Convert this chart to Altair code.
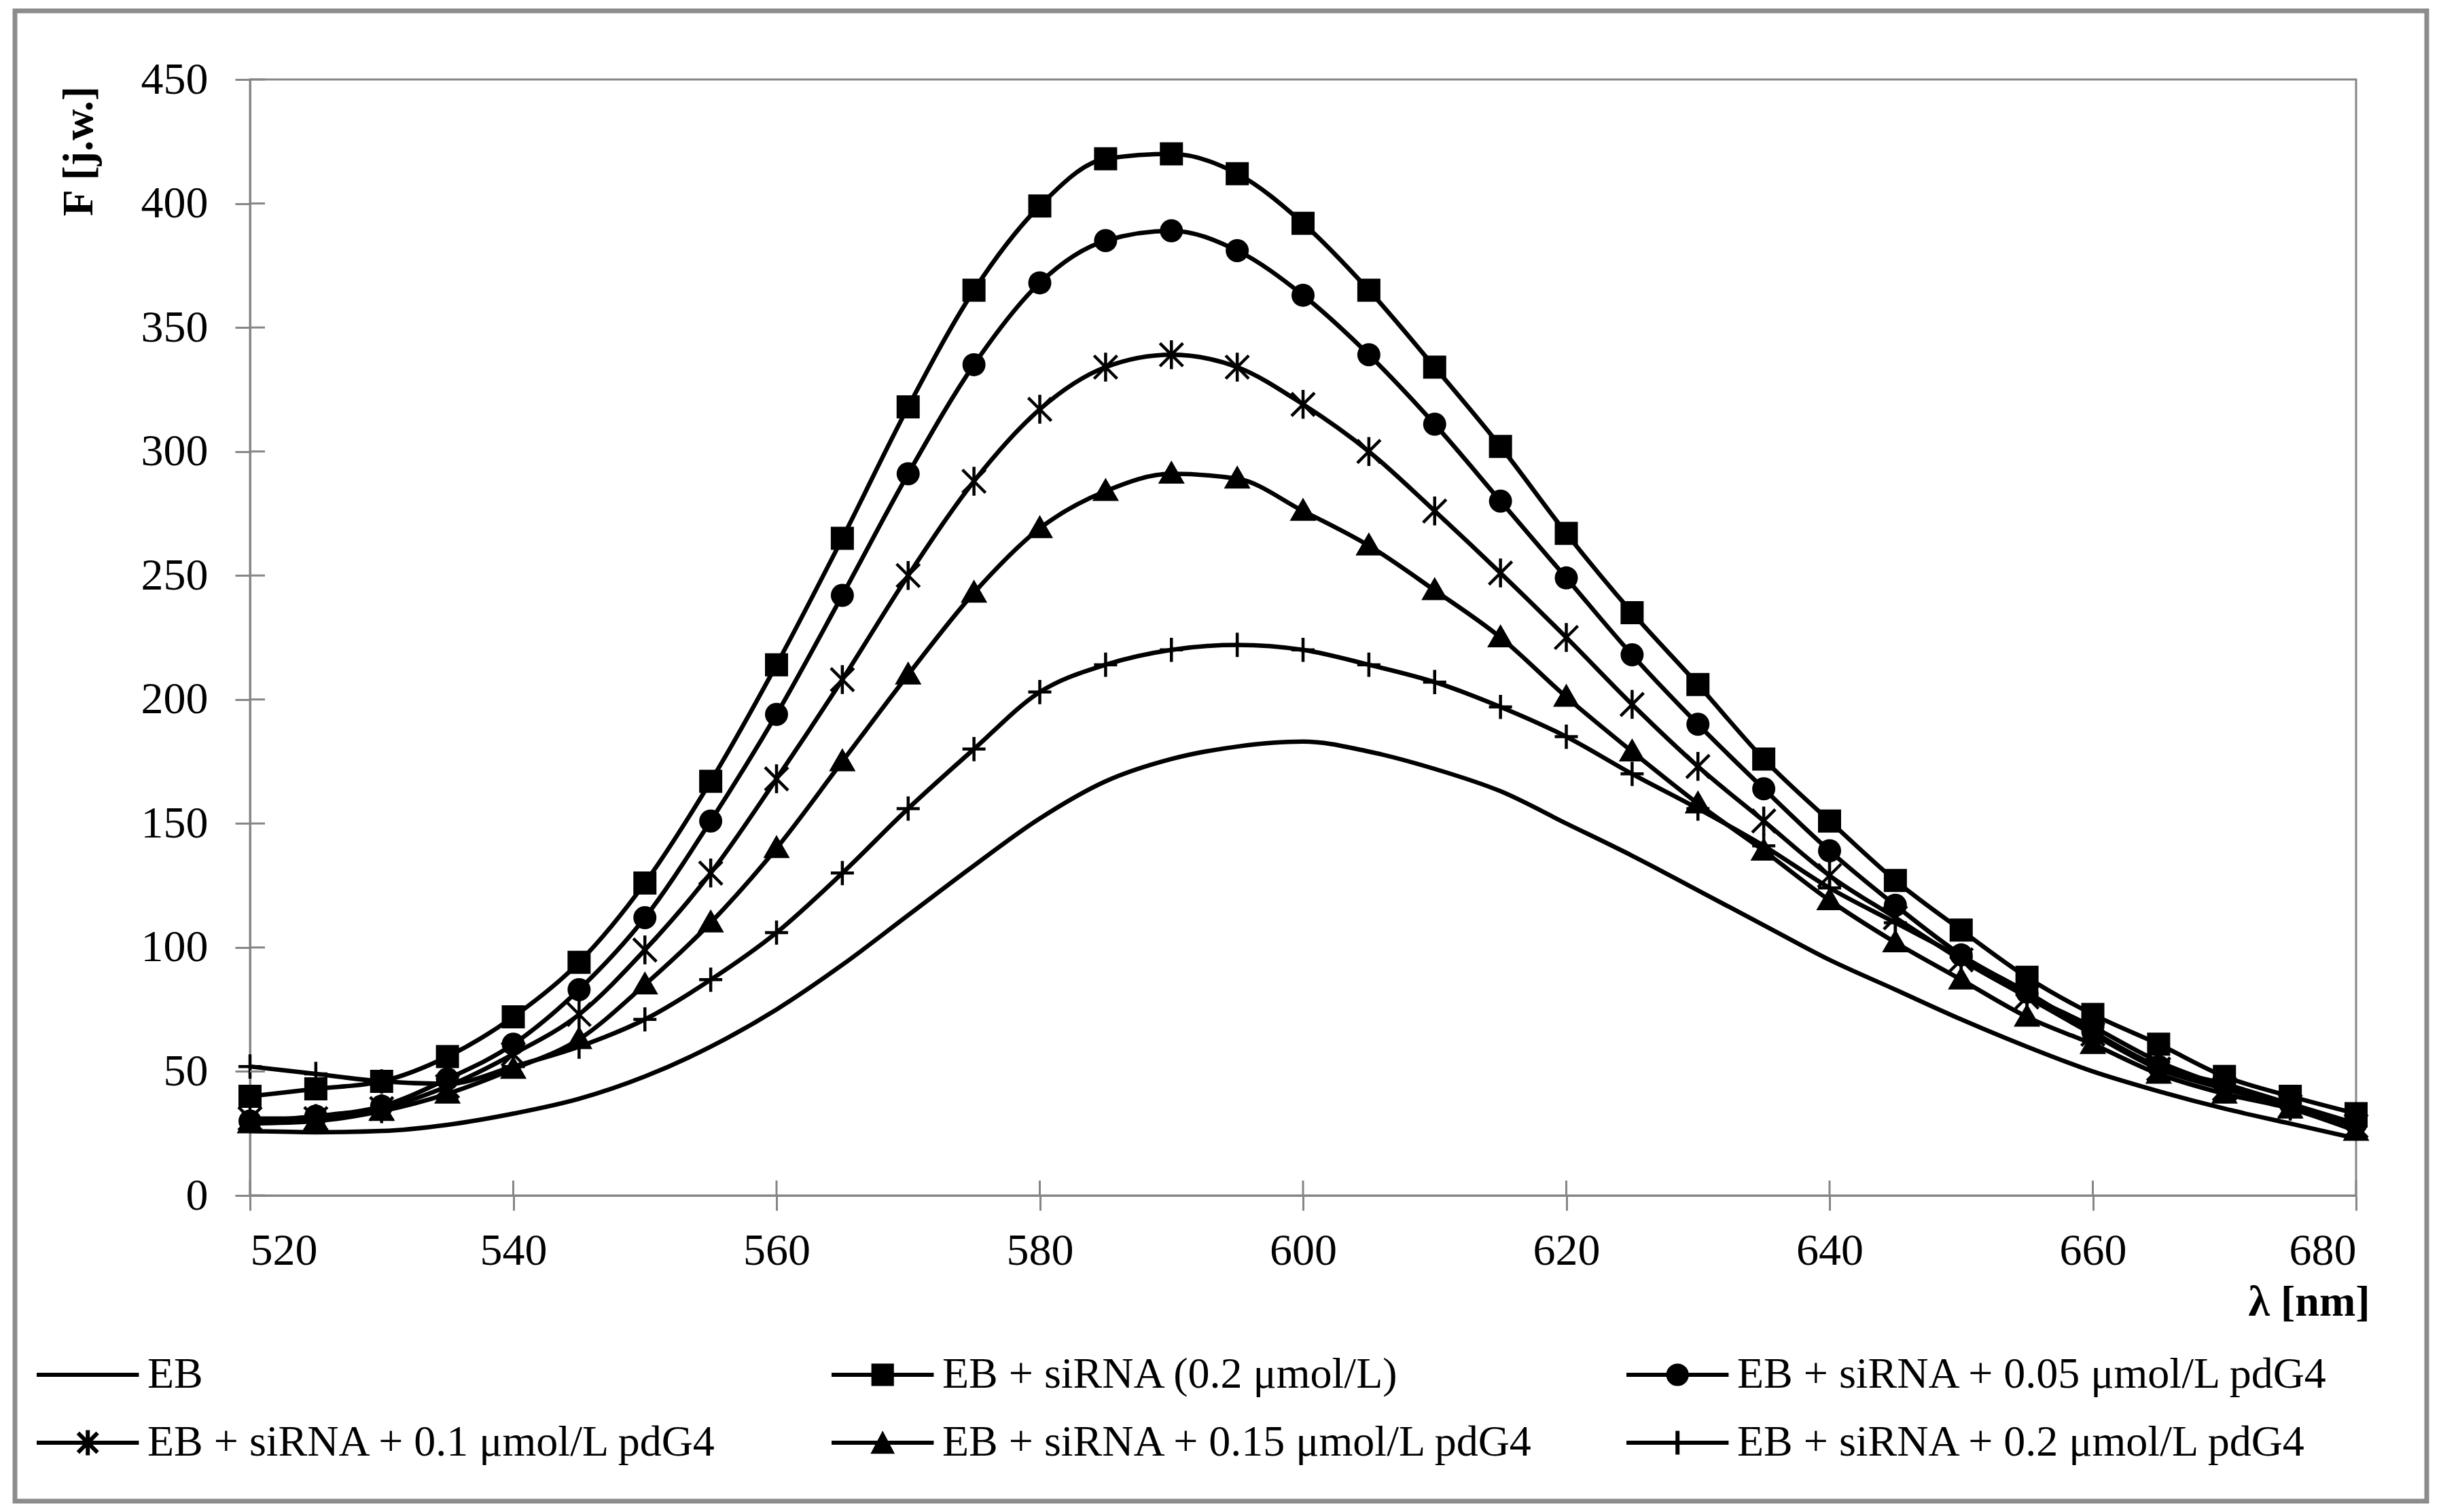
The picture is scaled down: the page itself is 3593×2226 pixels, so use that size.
import altair as alt
import pandas as pd

# ---------------- data ----------------
WAVELENGTH = list(range(520, 681, 5))

SERIES = [
    "EB",
    "EB + siRNA (0.2 μmol/L)",
    "EB + siRNA + 0.05 μmol/L pdG4",
    "EB + siRNA + 0.1 μmol/L pdG4",
    "EB + siRNA + 0.15 μmol/L pdG4",
    "EB + siRNA + 0.2 μmol/L pdG4",
]

EB = [26, 25.5, 26, 28.5, 33, 39, 48, 60, 75, 93, 113, 133, 152, 167, 176, 181,
      183, 179, 172, 163, 150, 137, 123, 109, 95, 83, 71, 60, 50, 42, 35, 29, 23]
SIRNA = [40, 43, 46, 56, 72, 94, 126, 167, 214, 265, 318, 365, 399, 418, 420, 412,
         392, 365, 334, 302, 267, 235, 206, 176, 151, 127, 107, 88, 73, 61, 48, 40, 33]
PDG4_005 = [30, 32, 36, 47, 61, 83, 112, 151, 194, 242, 291, 335, 368, 385, 389, 381,
            363, 339, 311, 280, 249, 218, 190, 164, 139, 117, 97, 82, 66, 52, 45, 37, 29]
PDG4_010 = [31, 31, 35, 44, 57, 73, 99, 130, 168, 208, 250, 288, 317, 334, 339, 334,
            319, 300, 276, 251, 225, 198, 173, 151, 129, 112, 95, 80, 65, 51, 43, 36, 28]
PDG4_015 = [29, 30, 34, 41, 51, 63, 85, 110, 140, 175, 210, 243, 269, 284, 291, 289,
            276, 262, 244, 225, 201, 179, 158, 139, 119, 102, 87, 72, 61, 49, 41, 35, 26]
PDG4_020 = [52, 49, 46, 45, 52, 60, 71, 87, 106, 130, 156, 180, 203, 214, 220, 222,
            220, 214, 207, 197, 185, 170, 156, 141, 124, 110, 96, 81, 68, 54, 44, 36, 28]

VALUES = [EB, SIRNA, PDG4_005, PDG4_010, PDG4_015, PDG4_020]

X_TICKS = [520, 540, 560, 580, 600, 620, 640, 660, 680]
Y_TICKS = [0, 50, 100, 150, 200, 250, 300, 350, 400, 450]

# ---------------- styling ----------------
FONT = "Liberation Serif"
GRAY = "#868686"
W, H = 3100, 1643

rows = []
for name, vals in zip(SERIES, VALUES):
    for wl, v in zip(WAVELENGTH, vals):
        rows.append({"wl": wl, "F": v, "series": name})
df = pd.DataFrame(rows)

xscale = alt.Scale(domain=[520, 680], nice=False, zero=False)
yscale = alt.Scale(domain=[0, 450], nice=False)

xenc = alt.X("wl:Q", scale=xscale, title="λ [nm]",
             axis=alt.Axis(values=X_TICKS, titleX=3120, titleY=157,
                           titleAlign="right", titleBaseline="middle", titleAnchor="end"))
yenc = alt.Y("F:Q", scale=yscale, title="F [j.w.]",
             axis=alt.Axis(values=Y_TICKS, titleX=-252, titleY=105, titleAngle=270,
                           titleAlign="center", titleBaseline="middle"))

base = alt.Chart(df)

lines = base.mark_line(color="black", strokeWidth=6.5, interpolate="monotone").encode(
    x=xenc, y=yenc, detail="series:N")

MARKERS = {
    SERIES[1]: dict(shape="M-1,-1H1V1H-1Z", filled=True, strokeWidth=1),
    SERIES[2]: dict(shape="circle", filled=True, strokeWidth=1),
    SERIES[3]: dict(shape="M-1,-1L1,1M-1,1L1,-1M0,-1.25V1.25", filled=False, strokeWidth=4.5),
    SERIES[4]: dict(shape="M0,-1.15L1.15,0.85H-1.15Z", filled=True, strokeWidth=1),
    SERIES[5]: dict(shape="M-1,0H1M0,-1.05V1.05", filled=False, strokeWidth=4.5),
}

marker_layers = []
for name, style in MARKERS.items():
    marker_layers.append(
        base.transform_filter(alt.datum.series == name).mark_point(
            shape=style["shape"], filled=style["filled"], size=1156, color="black",
            opacity=1, strokeWidth=style["strokeWidth"],
        ).encode(x=xenc, y=yenc)
    )

# legend glyphs: a line segment with the marker in its middle
CX = 3.7
LINE = "M-1,0H8.4"
SCALES = [0.85, 0.6, 0.35, 0.1]


def sq(s):
    return f"M{CX - s:.3f},{-s:.3f}H{CX + s:.3f}V{s:.3f}H{CX - s:.3f}Z"


def circ(r):
    return (f"M{CX - r:.3f},0A{r:.3f},{r:.3f} 0 1,0 {CX + r:.3f},0"
            f"A{r:.3f},{r:.3f} 0 1,0 {CX - r:.3f},0Z")


def tri(s):
    cy = 0.317
    return (f"M{CX:.3f},{cy - 1.2 * s:.3f}L{CX + 0.95 * s:.3f},{cy + 0.6 * s:.3f}"
            f"H{CX - 0.95 * s:.3f}Z")


LEGEND_PATHS = [
    LINE,
    LINE + "".join(sq(s) for s in SCALES),
    LINE + "".join(circ(s) for s in SCALES),
    LINE + f"M{CX - 0.9},-0.9L{CX + 0.9},0.9M{CX - 0.9},0.9L{CX + 0.9},-0.9M{CX},-1.15V1.15",
    LINE + "".join(tri(s) for s in SCALES),
    LINE + f"M{CX},-1.1V1.1",
]

legend_layer = base.mark_point(filled=False, color="black", opacity=0).encode(
    x=xenc, y=yenc,
    shape=alt.Shape("series:N",
                    scale=alt.Scale(domain=SERIES, range=LEGEND_PATHS),
                    legend=alt.Legend(
                        title=None, orient="none", legendX=-330, legendY=1875,
                        direction="horizontal",
                        columns=3, gridAlign="all", columnPadding=118, rowPadding=36,
                        padding=0, symbolSize=1024, symbolOffset=0,
                        symbolFillColor="black", symbolStrokeColor="black",
                        symbolStrokeWidth=6, symbolOpacity=1,
                        labelFont=FONT, labelFontSize=64, labelColor="black",
                        labelLimit=3000, labelOffset=115,
                    )),
)

tick_df_y = pd.DataFrame({"F": Y_TICKS})
tick_df_x = pd.DataFrame({"wl": X_TICKS})
inner_y = alt.Chart(tick_df_y).mark_rule(color=GRAY, strokeWidth=3).encode(
    y=yenc, x=alt.value(0), x2=alt.value(22))
inner_x = alt.Chart(tick_df_x).mark_rule(color=GRAY, strokeWidth=3).encode(
    x=xenc, y=alt.value(H), y2=alt.value(H - 22))

frame = alt.Chart(pd.DataFrame({"k": [0]})).mark_rect(
    fill="white", fillOpacity=0, stroke="#8c8c8c", strokeWidth=7).encode(
    x=alt.value(-346), x2=alt.value(3204), y=alt.value(-101), y2=alt.value(2093))

chart = alt.layer(
    lines, *marker_layers, legend_layer, inner_y, inner_x, frame
).properties(
    width=W, height=H,
    padding={"left": 360, "top": 109, "right": 117, "bottom": 458},
    autosize=alt.AutoSizeParams(type="none"),
    background="white",
).configure_view(
    stroke=GRAY, strokeWidth=3
).configure_axis(
    grid=False, domainColor=GRAY, domainWidth=3, tickColor=GRAY, tickWidth=3,
    tickSize=22, labelFont=FONT, labelFontSize=66, labelColor="black",
    titleFont=FONT, titleFontSize=64, titleFontWeight="bold", titleColor="black",
).configure_axisY(
    labelPadding=40
).configure_axisX(
    labelPadding=27
)

chart.save("out.html", embed_options={"renderer": "svg", "actions": False})
